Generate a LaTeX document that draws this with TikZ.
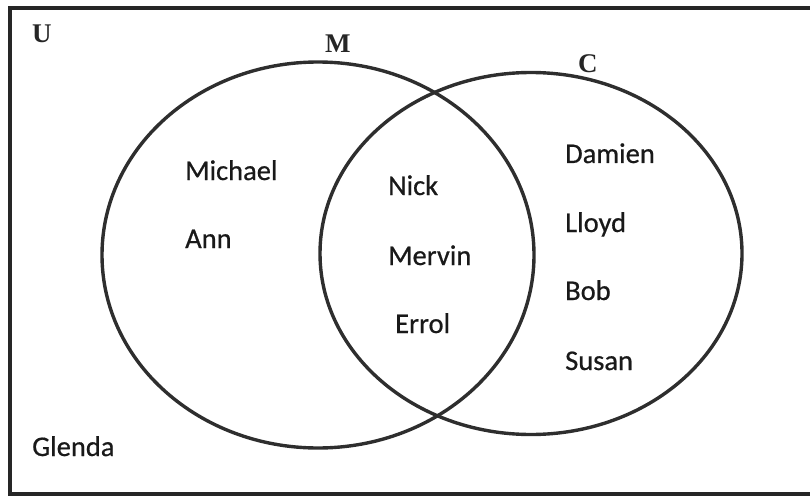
\documentclass[tikz,border=0pt]{standalone}
\usepackage{fontspec}
\setmainfont[FakeBold=0.6]{Carlito}
\newfontfamily\setfont{Liberation Serif}
\begin{document}
\begin{tikzpicture}[x=1pt,y=-1pt,
  setline/.style={line width=3.4pt,draw=black!82},
  person/.style={anchor=base west,inner sep=0pt,font=\fontsize{28.5}{30}\selectfont,text=black!90},
  setlabel/.style={anchor=base west,inner sep=0pt,font=\setfont\bfseries\fontsize{27}{29}\selectfont,text=black!85}]
\useasboundingbox (0,0) rectangle (810,497);
\draw[line width=3.8pt,draw=black!85] (818,8) -- (10,8) -- (10,494) -- (818,494);
\draw[setline] (318,255) ellipse [x radius=216, y radius=193];
\draw[setline] (531,253.5) ellipse [x radius=211, y radius=181];
\node[setlabel] (U) at (32,43) {U};
\node[setlabel] (M) at (325,53) {M};
\node[setlabel] (C) at (578,73) {C};
\node[person] (michael) at (185,180) {Michael};
\node[person] (ann) at (185,248) {Ann};
\node[person] (nick) at (388,195) {Nick};
\node[person] (mervin) at (388,265) {Mervin};
\node[person] (errol) at (395,333) {Errol};
\node[person] (damien) at (565,163) {Damien};
\node[person] (lloyd) at (565,232) {Lloyd};
\node[person] (bob) at (565,300) {Bob};
\node[person] (susan) at (565,370) {Susan};
\node[person] (glenda) at (32,456) {Glenda};
\end{tikzpicture}
\end{document}
